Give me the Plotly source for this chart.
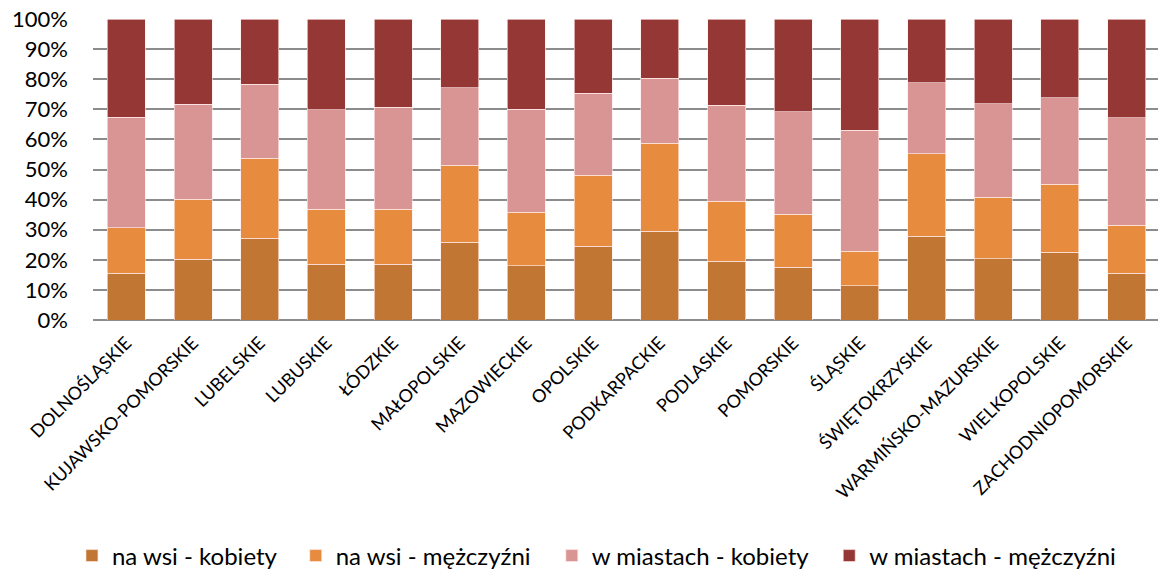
import plotly.graph_objects as go

categories = ["DOLNOŚLĄSKIE", "KUJAWSKO-POMORSKIE", "LUBELSKIE", "LUBUSKIE", "ŁÓDZKIE",
              "MAŁOPOLSKIE", "MAZOWIECKIE", "OPOLSKIE", "PODKARPACKIE", "PODLASKIE",
              "POMORSKIE", "ŚLĄSKIE", "ŚWIĘTOKRZYSKIE", "WARMIŃSKO-MAZURSKIE",
              "WIELKOPOLSKIE", "ZACHODNIOPOMORSKIE"]

# shares (percent)
wies_kobiety = [15.5, 20.2, 27.2, 18.5, 18.5, 25.8, 18.0, 24.5, 29.5, 19.5, 17.5, 11.4, 27.8, 20.3, 22.5, 15.5]
wies_mezczyzni = [15.2, 19.9, 26.6, 18.3, 18.3, 25.6, 17.8, 23.6, 29.3, 20.0, 17.6, 11.4, 27.5, 20.5, 22.6, 15.9]
miasta_kobiety = [36.6, 31.6, 24.6, 33.0, 33.9, 25.8, 34.3, 27.2, 21.5, 31.9, 34.1, 40.3, 23.5, 31.0, 28.7, 35.8]
miasta_mezczyzni = [32.7, 28.3, 21.6, 30.2, 29.3, 22.8, 29.9, 24.7, 19.7, 28.6, 30.8, 36.9, 21.2, 28.2, 26.2, 32.8]

series_names = ["na wsi - kobiety", "na wsi - mężczyźni", "w miastach - kobiety", "w miastach - mężczyźni"]
series_values = [wies_kobiety, wies_mezczyzni, miasta_kobiety, miasta_mezczyzni]
series_colors = ["#C27633", "#E78C3F", "#D99594", "#953735"]
legend_ids = ["legend", "legend2", "legend3", "legend4"]
legend_x = [-0.0197, 0.190, 0.430, 0.690]

fig = go.Figure()
for name, vals, color, lid in zip(series_names, series_values, series_colors, legend_ids):
    fig.add_trace(go.Bar(
        x=categories, y=vals, name=name, legend=lid,
        marker=dict(color=color, line=dict(color="rgba(255,235,235,0.8)", width=0.8)),
    ))

legend_common = dict(orientation="h", xanchor="left", y=-0.784, yanchor="middle",
                     font=dict(size=24), bgcolor="rgba(0,0,0,0)")

fig.update_layout(
    barmode="stack",
    barnorm="percent",
    bargap=0.43,
    width=1158, height=562,
    margin=dict(l=85, r=6, t=11, b=250, autoexpand=False),
    plot_bgcolor="white",
    paper_bgcolor="white",
    font=dict(family="Lato, 'Open Sans', sans-serif", color="#000000"),
    showlegend=True,
    legend=dict(x=legend_x[0], **legend_common),
    legend2=dict(x=legend_x[1], **legend_common),
    legend3=dict(x=legend_x[2], **legend_common),
    legend4=dict(x=legend_x[3], **legend_common),
    xaxis=dict(
        tickangle=-45, tickfont=dict(size=18), showgrid=False,
        showline=False, ticks="", automargin=False, ticklabelstandoff=8,
    ),
    yaxis=dict(
        range=[0, 100], dtick=10, ticksuffix="%", tickfont=dict(size=22),
        showgrid=True, gridcolor="#8C8C8C", gridwidth=1.5,
        zeroline=True, zerolinecolor="#8C8C8C", zerolinewidth=1.5,
        ticks="", ticklen=0, automargin=False, ticklabelstandoff=24,
        ticklabeloverflow="allow",
    ),
)

fig.write_html("out.html")
